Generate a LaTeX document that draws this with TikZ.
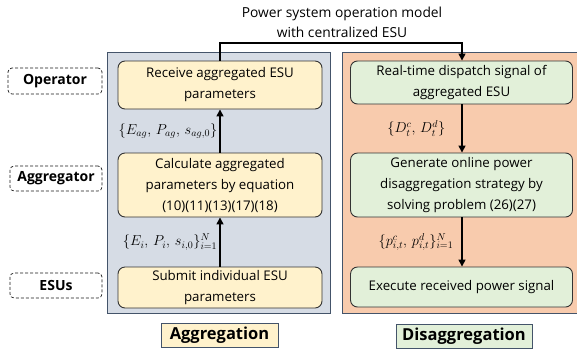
\documentclass[tikz,border=0pt]{standalone}
\usepackage{fontspec}
\setmainfont{Open Sans}
\usetikzlibrary{arrows.meta,positioning}
\definecolor{aggfill}{HTML}{D6DCE5}
\definecolor{disfill}{HTML}{F8CBAD}
\definecolor{yelfill}{HTML}{FFF2CC}
\definecolor{grnfill}{HTML}{E2F0D9}
\definecolor{navy}{HTML}{44546A}
\tikzset{stepbox/.style={draw=black!80, line width=0.9pt, rounded corners=7pt,
         align=center, inner sep=0pt, font=\fontsize{13.3}{21}\selectfont},
         rolebox/.style={draw=black!90, densely dashed, line width=0.7pt, rounded corners=4pt,
         minimum width=92pt, minimum height=25pt, inner sep=0pt,
         font=\fontsize{14}{16}\selectfont\bfseries},
         tagbox/.style={draw=navy, line width=0.9pt, inner sep=0pt,
         minimum height=24pt, font=\fontsize{16.5}{18}\selectfont\bfseries},
         flow/.style={line width=1.5pt, -{Triangle[length=7pt,width=7pt]}},
         setlab/.style={font=\fontsize{14}{16}\selectfont, inner sep=2pt}}

\begin{document}
\begin{tikzpicture}[x=1pt,y=-1pt]
  \useasboundingbox (0,0) rectangle (577,354);
  % panels
  \fill[aggfill] (107,52) rectangle (330,313);
  \draw[navy, thick] (107,52) rectangle (330,313);
  \fill[disfill] (342,52) rectangle (577,313);
  \draw[navy, thick] (578,52) -- (342,52) -- (342,313) -- (578,313);
  \node[font=\fontsize{13.8}{20}\selectfont, align=center] (title) at (342,22)
    {Power system operation model\\with centralized ESU};
  % roles
  \node[rolebox, minimum width=94pt, minimum height=26pt] (operator) at (55,81) {Operator};
  \node[rolebox] (aggregator) at (56,178.5) {Aggregator};
  \node[rolebox] (esus) at (56,285.5) {ESUs};
  % aggregation side
  \node[stepbox, fill=yelfill, minimum width=204pt, minimum height=48pt] (receive) at (220,85)
    {Receive aggregated ESU\\parameters};
  \node[stepbox, fill=yelfill, minimum width=204pt, minimum height=64pt] (calc) at (220,185)
    {Calculate aggregated\\parameters by equation\\(10)(11)(13)(17)(18)};
  \node[stepbox, fill=yelfill, minimum width=204pt, minimum height=41pt] (submit) at (220,287.5)
    {Submit individual ESU\\parameters};
  % disaggregation side
  \node[stepbox, fill=grnfill, minimum width=222pt, minimum height=43pt] (realtime) at (461.5,82.5)
    {Real-time dispatch signal of\\aggregated ESU};
  \node[stepbox, fill=grnfill, minimum width=222pt, minimum height=64pt] (generate) at (461.5,185)
    {Generate online power\\disaggregation strategy by\\solving problem (26)(27)};
  \node[stepbox, fill=grnfill, minimum width=222pt, minimum height=40pt] (execute) at (461.5,287)
    {Execute received power signal};
  % tags
  \node[tagbox, fill=yelfill, minimum width=117pt] (aggtag) at (219.5,335.5) {Aggregation};
  \node[tagbox, fill=grnfill, minimum width=136pt] (disaggtag) at (464,336) {Disaggregation};
  % connectors
  \draw[flow] (submit.north -| 220,0) -- node[setlab, left] {$\{E_i,\,P_i,\,s_{i,0}\}_{i=1}^N$} (calc.south -| 220,0);
  \draw[flow] (calc.north -| 220,0) -- node[setlab, left] {$\{E_{ag},\,P_{ag},\,s_{ag,0}\}$} (receive.south -| 220,0);
  \draw[flow] (receive.north -| 220,0) |- (462,43) -- (realtime.north -| 462,0);
  \draw[flow] (realtime.south -| 462,0) -- node[setlab, left=14pt] {$\{D_t^c,\,D_t^d\}$} (generate.north -| 462,0);
  \draw[flow] (generate.south -| 462,0) -- node[setlab, left=6pt] {$\{p_{i,t}^c,\,p_{i,t}^d\}_{i=1}^N$} (execute.north -| 462,0);
\end{tikzpicture}
\end{document}
